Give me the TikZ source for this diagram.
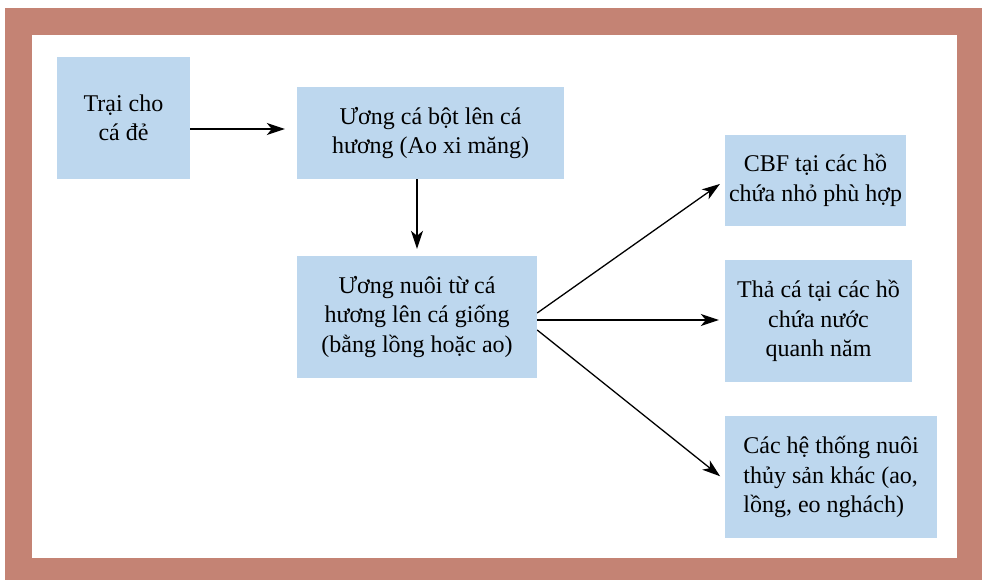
\documentclass[tikz,border=0pt]{standalone}
\usepackage{fontspec}
\setmainfont{Liberation Serif}
\usepackage{xcolor}
\usepackage{tikz}
\usetikzlibrary{arrows.meta,positioning,calc}

\definecolor{framebrown}{RGB}{196,131,116}
\definecolor{boxblue}{RGB}{189,215,238}

\begin{document}
\begin{tikzpicture}[x=1pt,y=-1pt,
  stagebox/.style={fill=boxblue, inner sep=0pt, align=center, font=\fontsize{24}{29.5}\selectfont},
  flow/.style={-{Stealth[length=18pt,width=12pt,inset=5pt]}, line width=1.3pt, shorten >=7pt}]
% Frame
\useasboundingbox (0,0) rectangle (982,580);
\fill[framebrown] (5,8) rectangle (982,580);
\fill[white] (32,35) rectangle (957,558);

% Stages
\node[stagebox, minimum width=133pt, minimum height=122pt] (trai) at (123.5,118) {Trại cho\\cá đẻ};
\node[stagebox, minimum width=267pt, minimum height=92pt] (bot) at (430.5,133) {Ương cá bột lên cá\\hương (Ao xi măng)};
\node[stagebox, minimum width=240pt, minimum height=122pt] (giong) at (417,317) {Ương nuôi từ cá\\hương lên cá giống\\(bằng lồng hoặc ao)};

% Outlets
\node[stagebox, minimum width=181pt, minimum height=91pt] (cbf) at (815.5,180.5) {CBF tại các hồ\\chứa nhỏ phù hợp};
\node[stagebox, minimum width=187pt, minimum height=122pt] (tha) at (818.5,321) {Thả cá tại các hồ\\chứa nước\\quanh năm};
\node[stagebox, minimum width=212pt, minimum height=122pt, align=left] (khac) at (831,477) {Các hệ thống nuôi\\thủy sản khác (ao,\\lồng, eo nghách)};

% Arrows
\draw[flow, shorten >=12pt] ([yshift=-11pt]trai.east) -- ([yshift=-11pt]trai.east -| bot.west);
\draw[flow] (bot.south -| giong.north) -- (giong.north);
\draw[flow, shorten >=6pt] ([yshift=4pt]giong.east) -- (cbf.west);
\draw[flow, shorten >=6pt] ([yshift=-3pt]giong.east) -- ([yshift=-3pt]giong.east -| tha.west);
\draw[flow, shorten >=6pt] ([yshift=-13pt]giong.east) -- ([yshift=-3pt]khac.west);
\end{tikzpicture}
\end{document}
